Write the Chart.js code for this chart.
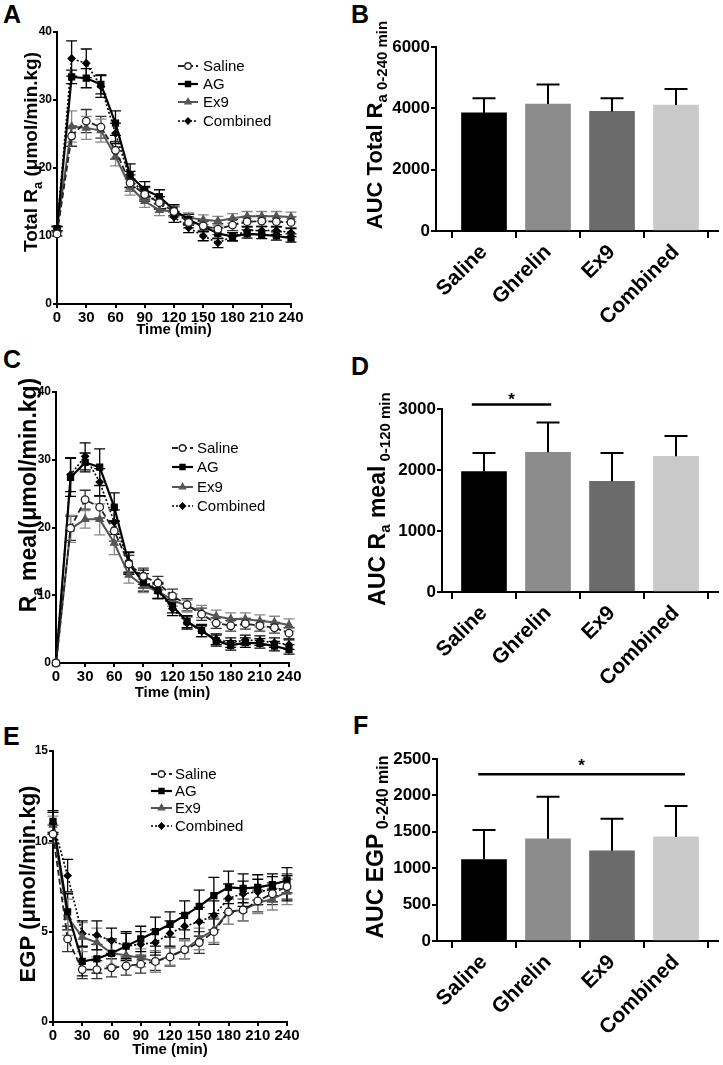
<!DOCTYPE html>
<html>
<head>
<meta charset="utf-8">
<script src="https://cdn.jsdelivr.net/npm/chart.js@4.4.1/dist/chart.umd.min.js"></script>
<style>
  body { margin: 0; background: #fff; width: 723px; height: 1065px; position: relative; overflow: hidden;
         font-family: "Liberation Sans", Arial, sans-serif; }
  canvas { position: absolute; }
  .panel-letter { position: absolute; font-weight: bold; font-size: 25px; line-height: 25px; color: #000; }
</style>
</head>
<body>
<div class="panel-letter" style="left:3px;top:2px">A</div>
<div class="panel-letter" style="left:351px;top:2px">B</div>
<div class="panel-letter" style="left:3px;top:347px">C</div>
<div class="panel-letter" style="left:351px;top:354px">D</div>
<div class="panel-letter" style="left:3px;top:724px">E</div>
<div class="panel-letter" style="left:353px;top:713px">F</div>

<canvas id="chartA" width="360" height="345" style="left:0;top:0"></canvas>
<canvas id="chartB" width="363" height="340" style="left:360px;top:0"></canvas>
<canvas id="chartC" width="360" height="365" style="left:0;top:340px"></canvas>
<canvas id="chartD" width="363" height="360" style="left:360px;top:340px"></canvas>
<canvas id="chartE" width="360" height="365" style="left:0;top:700px"></canvas>
<canvas id="chartF" width="363" height="365" style="left:360px;top:700px"></canvas>

<script>
const FONT = '"Liberation Sans", Arial, sans-serif';
Chart.defaults.font.family = FONT;
Chart.defaults.color = '#000';

// ---- data ----
const timePoints = [0, 15, 30, 45, 60, 75, 90, 105, 120, 135, 150, 165, 180, 195, 210, 225, 240];
const groupNames = ['Saline', 'AG', 'Ex9', 'Combined'];
const barLabels = ['Saline', 'Ghrelin', 'Ex9', 'Combined'];

// A: total Ra
const totalRaSaline   = [10.3, 24.7, 26.9, 26.0, 22.6, 17.8, 16.1, 14.9, 13.6, 12.0, 11.5, 11.0, 11.6, 12.1, 12.2, 12.1, 12.0];
const totalRaAG       = [11.1, 33.4, 33.2, 32.3, 26.6, 18.9, 16.8, 15.8, 13.8, 12.4, 11.4, 10.4, 9.9, 10.3, 10.2, 10.0, 9.7];
const totalRaEx9      = [11.1, 26.1, 25.9, 25.5, 21.7, 17.2, 15.1, 13.8, 13.6, 12.7, 12.4, 12.2, 12.6, 12.9, 12.9, 12.9, 12.8];
const totalRaCombined = [11.1, 36.1, 35.4, 32.0, 25.1, 18.3, 16.3, 14.9, 12.8, 11.2, 10.0, 9.0, 9.9, 10.8, 10.8, 10.8, 10.5];
const totalRaSalineSem   = [0.3, 1.5, 1.7, 1.6, 1.3, 1.2, 1.0, 0.9, 0.8, 0.8, 0.8, 0.8, 0.8, 0.8, 0.8, 0.8, 0.8];
const totalRaAGSem       = [0.3, 1.0, 1.4, 1.4, 1.8, 1.7, 1.2, 1.0, 0.8, 0.8, 0.8, 0.8, 0.6, 0.6, 0.6, 0.6, 0.6];
const totalRaEx9Sem      = [0.3, 2.3, 1.7, 1.7, 1.4, 1.2, 0.9, 0.8, 0.7, 0.7, 0.7, 0.7, 0.7, 0.7, 0.7, 0.7, 0.7];
const totalRaCombinedSem = [0.3, 2.6, 2.1, 1.6, 1.5, 1.2, 1.0, 0.9, 0.8, 0.7, 0.7, 0.7, 0.6, 0.6, 0.6, 0.6, 0.6];

// C: Ra meal
const raMealSaline   = [0, 19.9, 24.1, 23.0, 19.5, 14.6, 12.8, 11.8, 9.9, 8.6, 7.2, 5.9, 5.5, 5.8, 5.5, 5.2, 4.4];
const raMealAG       = [0, 27.4, 29.6, 28.9, 23.0, 14.7, 11.9, 10.7, 8.4, 6.1, 4.8, 3.3, 2.6, 3.0, 2.9, 2.5, 2.0];
const raMealEx9      = [0, 19.8, 21.2, 21.2, 17.7, 13.0, 11.4, 10.6, 9.3, 8.4, 7.6, 6.9, 6.5, 6.5, 6.2, 6.0, 5.6];
const raMealCombined = [0, 27.8, 30.5, 26.7, 20.8, 14.9, 12.4, 10.6, 8.0, 5.9, 4.7, 3.5, 3.0, 3.4, 3.3, 3.0, 2.7];
const raMealSalineSem   = [0, 1.8, 1.4, 1.6, 1.5, 1.3, 1.2, 1.0, 1.0, 0.9, 0.9, 0.8, 0.8, 0.8, 0.8, 0.8, 0.8];
const raMealAGSem       = [0, 2.8, 1.4, 2.7, 2.1, 1.6, 1.3, 1.2, 1.0, 0.9, 0.9, 0.8, 0.7, 0.7, 0.7, 0.7, 0.7];
const raMealEx9Sem      = [0, 2.0, 1.3, 2.3, 1.7, 1.2, 1.0, 1.0, 0.9, 0.9, 0.9, 0.9, 0.9, 0.9, 0.9, 0.9, 0.9];
const raMealCombinedSem = [0, 2.5, 2.0, 2.0, 1.8, 1.5, 1.3, 1.1, 1.0, 0.9, 0.8, 0.8, 0.7, 0.7, 0.7, 0.7, 0.7];

// E: EGP
const egpSaline   = [10.4, 4.6, 2.9, 2.9, 3.0, 3.1, 3.2, 3.35, 3.6, 4.0, 4.4, 5.0, 6.1, 6.2, 6.7, 7.1, 7.5];
const egpAG       = [11.1, 6.1, 3.35, 3.5, 3.8, 4.2, 4.6, 5.0, 5.4, 5.9, 6.4, 7.0, 7.45, 7.4, 7.45, 7.6, 7.85];
const egpEx9      = [10.9, 5.8, 4.7, 4.4, 3.8, 3.7, 3.55, 3.35, 3.65, 4.0, 4.6, 5.1, 6.1, 6.2, 6.6, 6.8, 7.2];
const egpCombined = [11.0, 8.1, 4.9, 4.8, 4.5, 4.2, 4.3, 4.4, 4.9, 5.3, 5.55, 5.9, 6.85, 7.1, 7.2, 7.35, 7.4];
const egpSalineSem   = [0.5, 0.7, 0.5, 0.5, 0.5, 0.5, 0.5, 0.5, 0.5, 0.5, 0.6, 0.7, 0.7, 0.6, 0.6, 0.6, 0.7];
const egpAGSem       = [0.6, 1.0, 0.8, 0.8, 0.8, 0.8, 0.7, 0.8, 0.7, 0.8, 0.9, 1.0, 0.9, 0.8, 0.7, 0.6, 0.7];
const egpEx9Sem      = [0.5, 1.0, 0.8, 0.8, 0.7, 0.6, 0.5, 0.6, 0.5, 0.5, 0.6, 0.7, 0.7, 0.6, 0.6, 0.6, 0.7];
const egpCombinedSem = [0.6, 0.9, 0.7, 0.8, 0.7, 0.7, 0.7, 0.7, 0.7, 0.7, 0.8, 0.8, 0.8, 0.7, 0.7, 0.7, 0.7];

// B, D, F: AUC bars (mean, SEM)
const aucTotalRa    = [3850, 4140, 3900, 4110];
const aucTotalRaSem = [480, 640, 430, 520];
const aucRaMeal     = [1975, 2290, 1815, 2225];
const aucRaMealSem  = [305, 490, 465, 332];
const aucEgp        = [1120, 1405, 1240, 1430];
const aucEgpSem     = [405, 577, 440, 424];

// significance brackets: [from, to] in category units, level in y units
const sigRangeD = [-0.19, 1.05];
const sigLevelD = 3075;
const sigRangeF = [-0.09, 3.14];
const sigLevelF = 2290;

// ---- styles ----
const seriesStyle = [
  { color: '#222', dash: [6, 3], width: 1.8, point: 'circle',   radius: 3.8, fill: '#fff', err: '#333' },
  { color: '#000', dash: [],     width: 2.2, point: 'rect',     radius: 4.2, fill: '#000', err: '#000' },
  { color: '#555', dash: [],     width: 2,   point: 'triangle', radius: 4.2, fill: '#555', err: '#888' },
  { color: '#000', dash: [2, 2], width: 1.6, point: 'rectRot',  radius: 3.5, fill: '#000', err: '#000' }
];
const barColors = ['#000000', '#8c8c8c', '#6b6b6b', '#c9c9c9'];

// ---- plugins ----
function drawErrors(chart, upOnly) {
  const ctx = chart.ctx;
  const ys = chart.scales.y;
  const cap = chart.options.plugins.errorBars.cap;
  chart.data.datasets.forEach((ds, i) => {
    if (!ds.sem) return;
    const meta = chart.getDatasetMeta(i);
    ctx.save();
    ctx.strokeStyle = ds.errColor || '#000';
    ctx.lineWidth = chart.options.plugins.errorBars.width;
    ctx.setLineDash([]);
    meta.data.forEach((el, k) => {
      const v = ds.data[k].y;
      const e = ds.sem[k];
      if (!e) return;
      const top = ys.getPixelForValue(v + e);
      const bot = ys.getPixelForValue(upOnly ? v : v - e);
      ctx.beginPath();
      ctx.moveTo(el.x, top); ctx.lineTo(el.x, bot);
      ctx.moveTo(el.x - cap / 2, top); ctx.lineTo(el.x + cap / 2, top);
      if (!upOnly) { ctx.moveTo(el.x - cap / 2, bot); ctx.lineTo(el.x + cap / 2, bot); }
      ctx.stroke();
    });
    ctx.restore();
  });
}

const errorBarPlugin = {
  id: 'errorBars',
  beforeDatasetsDraw(chart) { if (chart.config.type === 'line') drawErrors(chart, false); },
  afterDatasetsDraw(chart) { if (chart.config.type === 'bar') drawErrors(chart, true); }
};

// y axis title with subscripts, rotated
const richTitlePlugin = {
  id: 'richTitle',
  afterDraw(chart, args, opts) {
    if (!opts.parts) return;
    const ctx = chart.ctx;
    ctx.save();
    ctx.translate(opts.x, opts.y);
    ctx.rotate(-Math.PI / 2);
    ctx.fillStyle = '#000';
    ctx.textBaseline = 'alphabetic';
    const widths = opts.parts.map(p => {
      ctx.font = 'bold ' + p.size + 'px ' + FONT;
      return ctx.measureText(p.text).width;
    });
    let x = -widths.reduce((a, b) => a + b, 0) / 2;
    opts.parts.forEach((p, i) => {
      ctx.font = 'bold ' + p.size + 'px ' + FONT;
      ctx.fillText(p.text, x, p.sub ? opts.subShift : 0);
      x += widths[i];
    });
    ctx.restore();
  }
};

// legend with line sample + marker
const seriesLegendPlugin = {
  id: 'seriesLegend',
  afterDraw(chart, args, opts) {
    if (!opts.rows) return;
    const ctx = chart.ctx;
    chart.data.datasets.forEach((ds, i) => {
      const y = opts.rows[i];
      ctx.save();
      ctx.strokeStyle = ds.borderColor;
      ctx.lineWidth = ds.borderWidth;
      ctx.setLineDash(ds.borderDash);
      ctx.beginPath();
      ctx.moveTo(opts.x, y);
      ctx.lineTo(opts.x + opts.len, y);
      ctx.stroke();
      ctx.setLineDash([]);
      ctx.fillStyle = ds.pointBackgroundColor;
      ctx.strokeStyle = ds.pointBorderColor;
      ctx.lineWidth = 1.3;
      Chart.helpers.drawPoint(ctx, { pointStyle: ds.pointStyle, radius: ds.pointRadius * 0.85, borderWidth: 1.3, rotation: 0 },
        opts.x + opts.len / 2, y);
      ctx.fillStyle = '#000';
      ctx.font = '15px ' + FONT;
      ctx.textBaseline = 'middle';
      ctx.fillText(ds.label, opts.textX, y + 1);
      ctx.restore();
    });
  }
};

const significancePlugin = {
  id: 'significance',
  afterDraw(chart, args, opts) {
    if (!opts.range) return;
    const ctx = chart.ctx;
    const x1 = chart.scales.x.getPixelForValue(opts.range[0]);
    const x2 = chart.scales.x.getPixelForValue(opts.range[1]);
    const y = chart.scales.y.getPixelForValue(opts.level);
    ctx.save();
    ctx.strokeStyle = '#000';
    ctx.lineWidth = 2.5;
    ctx.beginPath(); ctx.moveTo(x1, y); ctx.lineTo(x2, y); ctx.stroke();
    ctx.fillStyle = '#000';
    ctx.font = 'bold 17px ' + FONT;
    ctx.textAlign = 'center';
    ctx.textBaseline = 'alphabetic';
    ctx.fillText('*', (x1 + x2) / 2, y + opts.starGap);
    ctx.restore();
  }
};

Chart.register(errorBarPlugin, richTitlePlugin, seriesLegendPlugin, significancePlugin);

// ---- builders ----
function lineSets(values, sems) {
  return values.map((vals, i) => {
    const s = seriesStyle[i];
    return {
      label: groupNames[i],
      data: vals.map((v, k) => ({ x: timePoints[k], y: v })),
      sem: sems[i],
      errColor: s.err,
      borderColor: s.color,
      borderWidth: s.width,
      borderDash: s.dash,
      pointStyle: s.point,
      pointRadius: s.radius,
      pointBackgroundColor: s.fill,
      pointBorderColor: s.color,
      pointBorderWidth: 1.3,
      tension: 0,
      clip: false
    };
  });
}

const axisLine = { color: '#000', width: 2 };
const tickGrid = { drawOnChartArea: false, tickLength: 4, color: '#000', lineWidth: 2 };

function lineChart(id, sets, yMax, yStep, box, title, legend) {
  return new Chart(document.getElementById(id), {
    type: 'line',
    data: { datasets: sets },
    options: {
      responsive: false,
      animation: false,
      layout: { autoPadding: false, padding: { left: 0, top: box.top, right: box.right, bottom: 0 } },
      scales: {
        x: {
          type: 'linear', min: 0, max: 240,
          afterFit: s => { s.height = box.xHeight; },
          ticks: { stepSize: 30, autoSkip: false, maxRotation: 0, padding: 1, color: '#000',
                   font: { size: 15, weight: 'bold' } },
          grid: tickGrid, border: axisLine,
          title: { display: true, text: 'Time (min)', color: '#000', font: { size: 15, weight: 'bold' },
                   padding: { top: 0, bottom: box.titlePad } }
        },
        y: {
          min: 0, max: yMax,
          afterFit: s => { s.width = box.left; },
          ticks: { stepSize: yStep, padding: 1, color: '#000', font: { size: 12, weight: 'bold' } },
          grid: tickGrid, border: axisLine
        }
      },
      plugins: {
        legend: { display: false },
        tooltip: { enabled: false },
        errorBars: { cap: 11, width: 1.3 },
        richTitle: title,
        seriesLegend: legend
      }
    }
  });
}

function barChart(id, values, sems, yMax, yStep, xMin, box, title, sig) {
  return new Chart(document.getElementById(id), {
    type: 'bar',
    data: {
      datasets: [{
        data: values.map((v, i) => ({ x: i, y: v })),
        sem: sems,
        errColor: '#000',
        backgroundColor: barColors,
        borderWidth: 0,
        barThickness: 45
      }]
    },
    options: {
      responsive: false,
      animation: false,
      layout: { autoPadding: false, padding: { left: 0, top: box.top, right: box.right, bottom: 0 } },
      scales: {
        x: {
          type: 'linear', min: xMin, max: 3.656, offset: false,
          afterFit: s => { s.height = box.xHeight; },
          afterBuildTicks: s => { s.ticks = barLabels.map((_, i) => ({ value: i })); },
          ticks: { autoSkip: false, minRotation: 45, maxRotation: 45, padding: 2, color: '#000',
                   font: { size: 21, weight: 'bold' }, callback: v => barLabels[v] },
          grid: { drawOnChartArea: false, tickLength: 7, color: '#000', lineWidth: 2 },
          border: axisLine
        },
        y: {
          min: 0, max: yMax,
          afterFit: s => { s.width = box.left; },
          ticks: { stepSize: yStep, padding: 1, color: '#000', font: { size: 17, weight: 'bold' },
                   callback: v => String(v) },
          grid: { drawOnChartArea: false, tickLength: 5, color: '#000', lineWidth: 2 },
          border: axisLine
        }
      },
      plugins: {
        legend: { display: false },
        tooltip: { enabled: false },
        errorBars: { cap: 23, width: 2 },
        richTitle: title,
        significance: sig || {}
      }
    }
  });
}

// ---- panels ----
lineChart('chartA',
  lineSets([totalRaSaline, totalRaAG, totalRaEx9, totalRaCombined],
           [totalRaSalineSem, totalRaAGSem, totalRaEx9Sem, totalRaCombinedSem]),
  40, 10,
  { left: 57, top: 32, right: 69, xHeight: 41, titlePad: 6 },
  { x: 37, y: 152, subShift: 5, parts: [
      { text: 'Total R', size: 19 }, { text: 'a', size: 13, sub: true }, { text: ' (\u03bcmol/min.kg)', size: 19 }] },
  { x: 178, len: 20, textX: 203, rows: [66, 84, 102, 121] });

barChart('chartB', aucTotalRa, aucTotalRaSem, 6000, 2000, -0.75,
  { left: 76, top: 47, right: 5, xHeight: 109 },
  { x: 22, y: 125, subShift: 5, parts: [
      { text: 'AUC Total R', size: 22 }, { text: 'a', size: 15, sub: true }, { text: ' 0-240 min', size: 15, sub: true }] });

lineChart('chartC',
  lineSets([raMealSaline, raMealAG, raMealEx9, raMealCombined],
           [raMealSalineSem, raMealAGSem, raMealEx9Sem, raMealCombinedSem]),
  40, 10,
  { left: 56, top: 52, right: 71, xHeight: 42, titlePad: 3 },
  { x: 36, y: 155, subShift: 6, parts: [
      { text: 'R', size: 23 }, { text: 'a', size: 15, sub: true }, { text: ' meal(\u03bcmol/min.kg)', size: 23 }] },
  { x: 172, len: 21, textX: 197, rows: [108, 127, 147, 166] });

barChart('chartD', aucRaMeal, aucRaMealSem, 3000, 1000, -0.656,
  { left: 82, top: 69, right: 5, xHeight: 108 },
  { x: 25, y: 159, subShift: 5, parts: [
      { text: 'AUC R', size: 23 }, { text: 'a', size: 15, sub: true }, { text: ' meal', size: 23 },
      { text: ' 0-120 min', size: 15, sub: true }] },
  { range: sigRangeD, level: sigLevelD, starGap: 1 });

lineChart('chartE',
  lineSets([egpSaline, egpAG, egpEx9, egpCombined],
           [egpSalineSem, egpAGSem, egpEx9Sem, egpCombinedSem]),
  15, 5,
  { left: 53, top: 51, right: 73, xHeight: 43, titlePad: 6 },
  { x: 35, y: 184, subShift: 5, parts: [{ text: 'EGP (\u03bcmol/min.kg)', size: 22 }] },
  { x: 151, len: 21, textX: 175, rows: [74, 91, 108, 126] });

barChart('chartF', aucEgp, aucEgpSem, 2500, 500, -0.734,
  { left: 77, top: 59, right: 5, xHeight: 124 },
  { x: 23, y: 147, subShift: 5, parts: [
      { text: 'AUC EGP', size: 23 }, { text: ' 0-240 min', size: 16, sub: true }] },
  { range: sigRangeF, level: sigLevelF, starGap: -3 });
</script>
</body>
</html>
